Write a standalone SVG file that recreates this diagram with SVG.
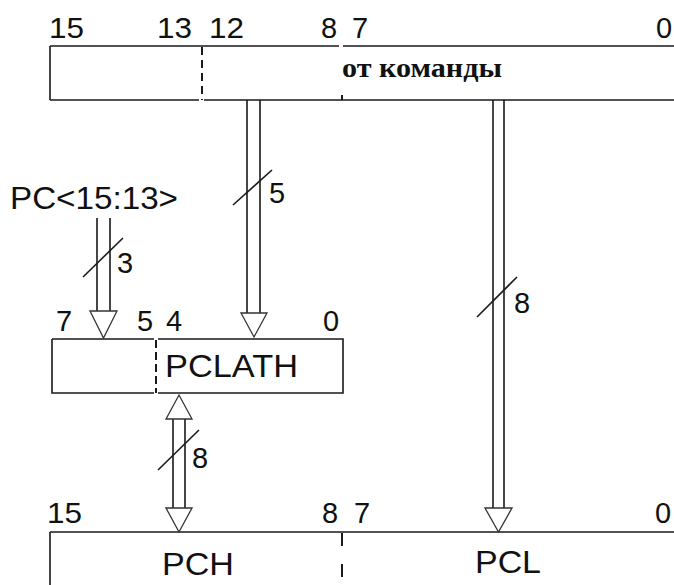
<svg xmlns="http://www.w3.org/2000/svg" width="674" height="585" viewBox="0 0 674 585">
<style>
.ln{stroke:#1a1a1a;stroke-width:1.6;fill:none}
.dv{stroke:#1a1a1a;stroke-width:2;fill:none}
.hd{stroke:#333;stroke-width:1.3;fill:#fff}
.num{font-family:"Liberation Sans",Arial,sans-serif;font-size:29px;fill:#111}
.lbl{font-family:"Liberation Sans",Arial,sans-serif;font-size:31px;fill:#111}
.cmd{font-family:"Liberation Serif","Times New Roman",serif;font-size:28px;font-weight:bold;fill:#111}
</style>
<rect width="674" height="585" fill="#fff"/>

<g id="reg-top">
  <path class="ln" d="M50,46 H339 M343,46 H674 M50,46 V100 M50,100 H199 M204,100 H674"/>
  <path class="dv" d="M202,47 V100" stroke-dasharray="8,5"/>
  <path class="dv" d="M342,95 V100"/>
  <text class="num" x="49" y="38" textLength="35" lengthAdjust="spacingAndGlyphs">15</text>
  <text class="num" x="157" y="38" textLength="35" lengthAdjust="spacingAndGlyphs">13</text>
  <text class="num" x="209" y="38" textLength="35" lengthAdjust="spacingAndGlyphs">12</text>
  <text class="num" x="321" y="38">8</text>
  <text class="num" x="352" y="38">7</text>
  <text class="num" x="656" y="38">0</text>
  <text class="cmd" x="342" y="77" textLength="160" lengthAdjust="spacingAndGlyphs">от команды</text>
</g>

<g id="pc-label">
  <text class="lbl" x="10" y="209" textLength="168" lengthAdjust="spacingAndGlyphs">PC&lt;15:13&gt;</text>
</g>

<g id="pclath">
  <path class="ln" d="M52,339 H154 M158,339 H343 V393 H158 M154,393 H52 V339"/>
  <path class="dv" d="M156,340 V393" stroke-dasharray="8,4"/>
  <text class="num" x="56" y="331">7</text>
  <text class="num" x="137" y="331">5</text>
  <text class="num" x="166" y="331">4</text>
  <text class="num" x="323" y="331">0</text>
  <text class="lbl" x="165" y="377" textLength="133" lengthAdjust="spacingAndGlyphs">PCLATH</text>
</g>

<g id="reg-bottom">
  <path class="ln" d="M50,532 H674 M50,532 V585"/>
  <path class="dv" d="M342,533 V580" stroke-dasharray="13,18"/>
  <text class="num" x="47" y="523" textLength="35" lengthAdjust="spacingAndGlyphs">15</text>
  <text class="num" x="322" y="523">8</text>
  <text class="num" x="354" y="523">7</text>
  <text class="num" x="655" y="523">0</text>
  <text class="lbl" x="162" y="575" textLength="72" lengthAdjust="spacingAndGlyphs">PCH</text>
  <text class="lbl" x="475" y="573" textLength="66" lengthAdjust="spacingAndGlyphs">PCL</text>
</g>

<g id="connectors">
  <!-- PC<15:13> to PCLATH -->
  <path class="ln" d="M97,218 V311 M110,218 V311"/>
  <polygon class="hd" points="90,311 117,311 103.5,338"/>
  <path class="ln" d="M83,277 L123,238"/>
  <text class="num" x="117" y="273">3</text>

  <!-- bits 12..8 to PCLATH -->
  <path class="ln" d="M247,100 V313 M260,100 V313"/>
  <polygon class="hd" points="241,313 267,313 254,337"/>
  <path class="ln" d="M233,205 L272,170"/>
  <text class="num" x="269" y="203">5</text>

  <!-- bits 7..0 to PCL -->
  <path class="ln" d="M493,100 V508 M504,100 V508"/>
  <polygon class="hd" points="485,508 512,508 498.5,532"/>
  <path class="ln" d="M477,317 L517,277"/>
  <text class="num" x="514" y="313">8</text>

  <!-- PCLATH <-> PCH -->
  <path class="ln" d="M173,419 V508 M185,419 V508"/>
  <polygon class="hd" points="166,419 192,419 179,395"/>
  <polygon class="hd" points="166,508 192,508 179,532"/>
  <path class="ln" d="M158,470 L199,430"/>
  <text class="num" x="192" y="468">8</text>
</g>
</svg>
